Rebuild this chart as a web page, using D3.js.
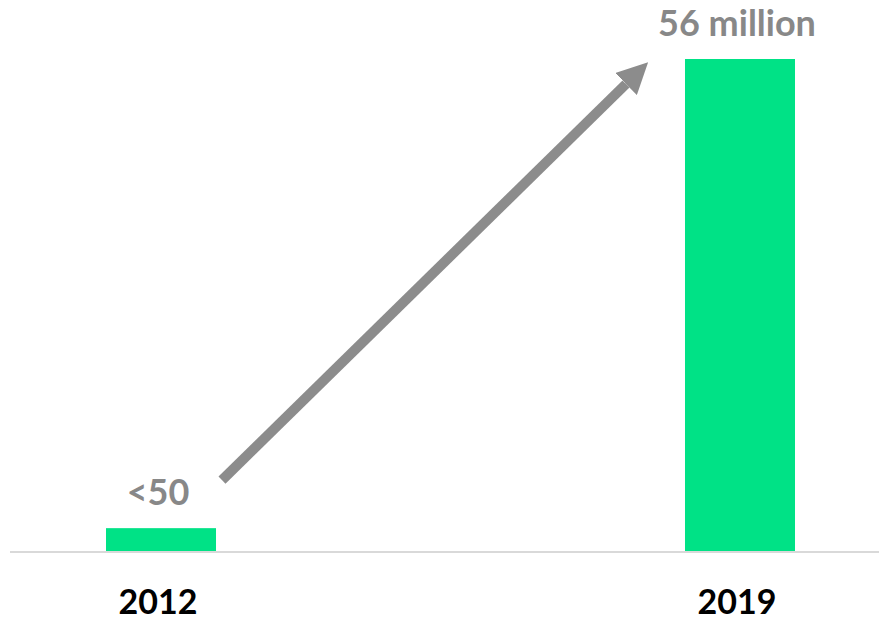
<!DOCTYPE html>
<html>
<head>
<meta charset="utf-8">
<script src="https://cdn.jsdelivr.net/npm/d3@7"></script>
<style>
  body { margin: 0; background: #fff; }
  text { font-family: Lato, "Open Sans", sans-serif; font-weight: bold; }
</style>
</head>
<body>
<div class="barchart"></div>
<script>
// DATA ------------------------------
const years = ["2012", "2019"];
const values = [2.6, 56];           // bar heights (2012 drawn as a small stub)
const valueLabels = ["<50", "56 million"];

const width = 879, height = 622;

const svg = d3.select(".barchart")
    .append("svg")
    .attr("width", width)
    .attr("height", height);

// scales
const xScale = d3.scaleBand()
    .domain(years)
    .range([106, 795])
    .paddingInner(0.81)
    .paddingOuter(0);

const yScale = d3.scaleLinear()
    .domain([0, 56])
    .range([551, 59]);

// baseline
svg.append("line")
    .attr("x1", 10)
    .attr("x2", width)
    .attr("y1", yScale(0) + 1)
    .attr("y2", yScale(0) + 1)
    .attr("stroke", "#d9d9d9")
    .attr("stroke-width", 2);

// bars
svg.selectAll(".bar")
    .data(years)
    .enter()
    .append("rect")
    .attr("class", "bar")
    .attr("fill", "#00e286")
    .attr("x", d => xScale(d))
    .attr("y", (d, i) => yScale(values[i]))
    .attr("width", xScale.bandwidth())
    .attr("height", (d, i) => yScale(0) - yScale(values[i]));

// year labels
svg.selectAll(".year")
    .data(years)
    .enter()
    .append("text")
    .attr("class", "year")
    .attr("x", d => xScale(d) + xScale.bandwidth() / 2 - 3)
    .attr("y", 614)
    .attr("text-anchor", "middle")
    .attr("font-size", 34)
    .attr("fill", "#000")
    .text(d => d);

// value labels
svg.selectAll(".val")
    .data(years)
    .enter()
    .append("text")
    .attr("class", "val")
    .attr("x", d => xScale(d) + xScale.bandwidth() / 2 - 3)
    .attr("y", (d, i) => yScale(values[i]) - 23)
    .attr("text-anchor", "middle")
    .attr("font-size", 36)
    .attr("fill", "#888888")
    .text((d, i) => valueLabels[i]);

// growth arrow
svg.append("defs").append("marker")
    .attr("id", "head")
    .attr("viewBox", "0 0 10 10")
    .attr("refX", 0)
    .attr("refY", 5)
    .attr("markerWidth", 3.1)
    .attr("markerHeight", 3.1)
    .attr("orient", "auto")
    .append("path")
    .attr("d", "M0,0 L10,5 L0,10 Z")
    .attr("fill", "#8c8c8c");

svg.append("line")
    .attr("x1", xScale("2012") + xScale.bandwidth() + 6)
    .attr("y1", yScale(values[0]) - 48)
    .attr("x2", xScale("2019") - 59)
    .attr("y2", yScale(values[1]) + 25)
    .attr("stroke", "#8c8c8c")
    .attr("stroke-width", 10)
    .attr("marker-end", "url(#head)");
</script>
</body>
</html>
